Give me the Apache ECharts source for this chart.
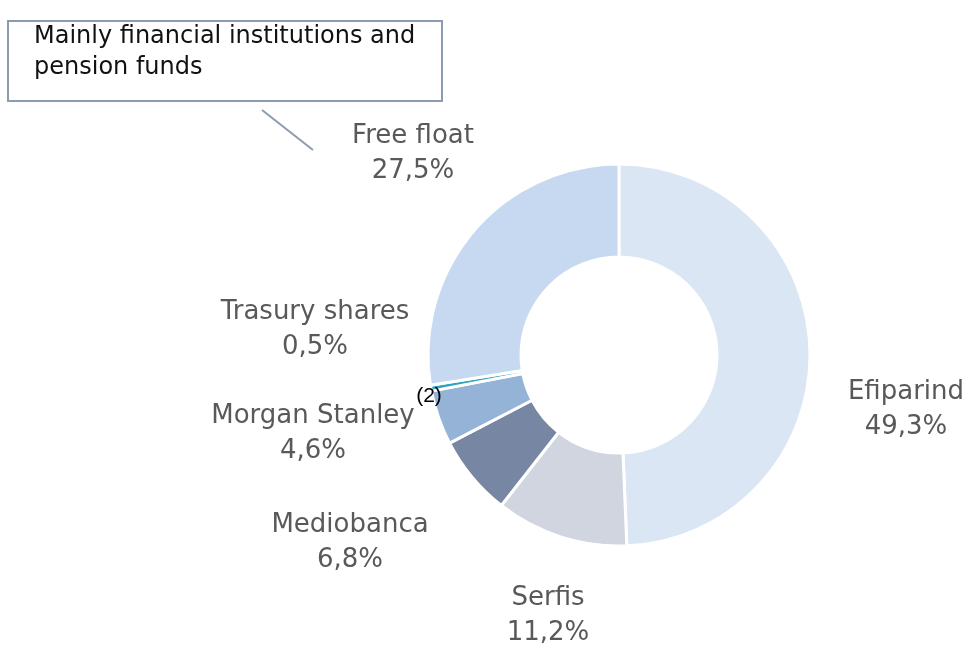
<!DOCTYPE html>
<html>
<head>
<meta charset="utf-8">
<script src="https://cdn.jsdelivr.net/npm/echarts@6/dist/echarts.min.js"></script>
<style>
    html, body { margin: 0; padding: 0; background: #ffffff; }
    #chart { width: 969px; height: 645px; }
</style>
</head>
<body>
<div id="chart"></div>
<script>
// shareholders, clockwise from 12 o'clock
const holders = ['Efiparind', 'Serfis', 'Mediobanca', 'Morgan Stanley', 'Trasury shares', 'Free float'];
const shares = [49.3, 11.2, 6.8, 4.6, 0.5, 27.5];
const colors = ['#dae6f3', '#d0d5e0', '#7786a3', '#95b3d7', '#31a3c0', '#c6d9f0'];

// where each label block sits (centre of the two lines)
const labelSpots = [[906, 410], [548, 616], [350, 543], [313, 434], [315, 330], [413, 154]];

const chart = echarts.init(document.getElementById('chart'));

chart.setOption({
    animation: false,
    series: [{
        type: 'pie',
        center: [619, 355],
        radius: [98, 191],
        startAngle: 90,
        clockwise: true,
        itemStyle: {
            borderColor: '#ffffff',
            borderWidth: 3
        },
        label: {
            show: true,
            position: 'outside',
            color: '#595959',
            fontFamily: 'DejaVu Sans',
            fontSize: 26,
            lineHeight: 35,
            align: 'center',
            overflow: 'none',
            formatter: function (p) {
                return p.name + '\n' + p.value.toFixed(1).replace('.', ',') + '%';
            }
        },
        labelLine: { show: false },
        labelLayout: function (p) {
            const s = labelSpots[p.dataIndex];
            return { x: s[0], y: s[1], align: 'center', verticalAlign: 'middle' };
        },
        data: holders.map(function (h, i) {
            return { name: h, value: shares[i], itemStyle: { color: colors[i] } };
        })
    }],
    graphic: [
        {
            type: 'rect',
            z: 10,
            shape: { x: 8, y: 21, width: 434, height: 80 },
            style: { fill: '#ffffff', stroke: '#8d9bb0', lineWidth: 2 }
        },
        {
            type: 'text',
            z: 11,
            x: 34, y: 21,
            style: {
                text: 'Mainly financial institutions and\npension funds',
                fill: '#111111',
                font: '24px "DejaVu Sans"',
                lineHeight: 31
            }
        },
        {
            type: 'line',
            z: 10,
            shape: { x1: 262, y1: 110, x2: 313, y2: 150 },
            style: { stroke: '#8d9bb0', lineWidth: 2 }
        },
        {
            type: 'text',
            z: 100,
            x: 429, y: 396,
            style: {
                text: '(2)',
                fill: '#000000',
                font: '21px "Liberation Sans"',
                align: 'center',
                verticalAlign: 'middle'
            }
        }
    ]
});
</script>
</body>
</html>
